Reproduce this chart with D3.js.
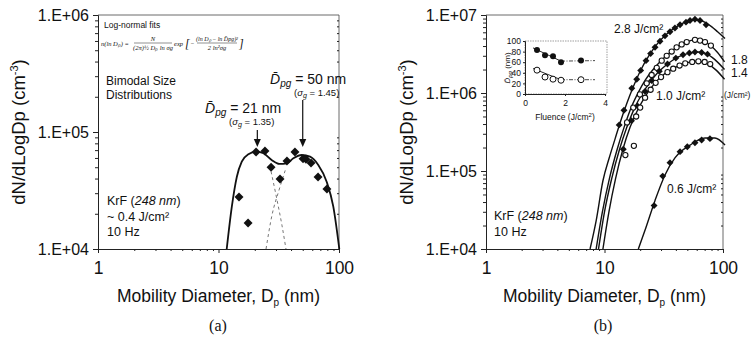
<!DOCTYPE html>
<html>
<head>
<meta charset="utf-8">
<script src="https://cdn.jsdelivr.net/npm/d3@7/dist/d3.min.js"></script>
<style>
  body { margin: 0; background: #fff; }
  text { font-family: "Liberation Sans", Arial, sans-serif; fill: #111; }
  .serif { font-family: "Liberation Serif", "Times New Roman", serif; }
</style>
</head>
<body>
<div id="chart"></div>
<script>
// ---- panel (a): bimodal distribution, ~0.4 J/cm2 ----
const pointsA = [[14.8, 2.78e4], [17.6, 1.67e4], [20.5, 6.75e4], [24.3, 6.88e4], [27.3, 5.0e4],
  [32.4, 3.97e4], [37.0, 5.65e4], [43.1, 6.75e4], [50.3, 5.9e4], [53.2, 5.85e4],
  [58.6, 5.43e4], [67.0, 4.13e4], [79.4, 3.26e4]];
const fitA = [[11.7, 1e4], [12.9, 2.3e4], [14.2, 4.15e4], [15.6, 5.57e4], [17.7, 6.45e4],
  [20.7, 6.79e4], [23.6, 6.58e4], [27.6, 5.76e4], [32, 5.33e4], [36.8, 5.4e4], [41.8, 5.96e4],
  [49, 6.36e4], [57.5, 6.15e4], [67.3, 5.22e4], [79, 3.76e4], [89.7, 2.3e4], [100.6, 1e4]];
const modeSmallA = [[27.3, 4.6e4], [30.6, 2.62e4], [33.6, 1.6e4], [36.3, 1e4]];
const modeLargeA = [[24.8, 1e4], [27.8, 1.95e4], [31.8, 3.19e4], [36.3, 4.92e4]];
const modeDpgA = [21, 50];

// ---- panel (b): fluence series ----
const fluenceLabels = ['2.8 J/cm²', '1.8', '1.4', '1.0 J/cm²', '0.6 J/cm²'];
const fit28 = [[7.55, 1e4], [8.5, 2.3e4], [9.7, 7.5e4], [11, 1.5e5], [12.3, 2.6e5], [13.5, 4.1e5],
  [15.5, 7.5e5], [17.5, 1.2e6], [20, 1.9e6], [24, 3.1e6], [28, 4.3e6], [33, 5.6e6], [40, 7e6],
  [47, 8e6], [55, 8.7e6], [62, 8.7e6], [70, 8.1e6], [80, 7.1e6], [90, 6.1e6], [104, 5.0e6]];
const marks28 = [[13.3, 3.9e5], [14.6, 6.0e5], [17, 1.15e6], [18.7, 1.5e6], [20.2, 1.95e6],
  [22.4, 2.6e6], [24.5, 3.2e6], [26.7, 3.85e6], [29.4, 4.6e6], [32.4, 5.4e6], [35.7, 6.1e6],
  [39.3, 6.8e6], [43.4, 7.5e6], [48.7, 8.1e6], [52.7, 8.5e6], [58, 8.8e6], [64, 8.5e6], [72, 7.5e6]];
const fit18 = [[8.5, 1e4], [9.6, 3e4], [11, 8e4], [12.8, 1.9e5], [14.6, 3.6e5], [17, 6.8e5],
  [19.5, 1.05e6], [22, 1.45e6], [25, 1.9e6], [30, 2.6e6], [35, 3.2e6], [41, 3.9e6], [49, 4.5e6],
  [58, 4.8e6], [67, 4.65e6], [78, 4.1e6], [90, 3.3e6], [103, 2.5e6]];
const marks18 = [[15.5, 4.2e5], [17.5, 6.5e5], [19.9, 9.6e5], [22.7, 1.33e6], [25, 1.7e6],
  [27.6, 2.1e6], [30.4, 2.6e6], [33.5, 3.0e6], [36.9, 3.4e6], [40.6, 3.85e6], [44.8, 4.2e6],
  [49.4, 4.5e6], [58, 4.8e6], [64, 4.7e6], [70.5, 4.5e6], [79, 4.05e6]];
const fit14 = [[8.9, 1e4], [10, 3e4], [11.5, 8e4], [13.4, 1.9e5], [15.4, 3.6e5], [18, 6.5e5],
  [21, 1e6], [24, 1.35e6], [28, 1.8e6], [34, 2.35e6], [42, 2.9e6], [52, 3.25e6], [62, 3.35e6],
  [72, 3.2e6], [85, 2.7e6], [103, 2.0e6]];
const marks14 = [[14.4, 1.9e5], [16.9, 4.4e5], [19, 6.8e5], [22, 1.05e6], [25, 1.45e6], [29, 1.9e6],
  [34, 2.35e6], [40, 2.8e6], [46, 3.1e6], [52, 3.25e6], [58, 3.35e6], [66, 3.3e6], [74, 3.15e6]];
const fit10 = [[9.7, 1e4], [10.9, 3e4], [12.4, 8e4], [14.3, 1.9e5], [16.4, 3.6e5], [19, 6e5],
  [22, 9e5], [26.7, 1.35e6], [32, 1.75e6], [40, 2.15e6], [50, 2.45e6], [62, 2.55e6], [75, 2.35e6],
  [88, 1.95e6], [103, 1.5e6]];
const marks10 = [[15, 1.6e5], [17.7, 2.1e5], [18.5, 5e5], [20, 6.5e5], [22, 8.7e5], [24.5, 1.1e6],
  [27, 1.35e6], [30, 1.6e6], [34, 1.85e6], [38, 2.05e6], [43, 2.25e6], [48, 2.4e6], [55, 2.5e6],
  [62, 2.55e6], [70, 2.5e6], [78, 2.35e6]];
const fit06 = [[19.3, 1e4], [22, 1.75e4], [26.7, 4.2e4], [32.4, 8.9e4], [39.3, 1.47e5],
  [52.7, 2.15e5], [70.5, 2.65e5], [85.5, 2.65e5], [104, 2.15e5]];
const marks06 = [[26.2, 3.6e4], [31, 8.6e4], [35.7, 1.28e5], [43.4, 1.77e5], [50, 2.05e5],
  [58, 2.3e5], [66, 2.5e5], [77.6, 2.6e5]];

// ---- inset: mode diameter vs fluence ----
const insetFluence = [0.6, 1.0, 1.4, 1.8, 2.8];
const dpgLarge = [83, 73, 71, 60, 63];
const dpgSmall = [45, 32, 28, 26, 27];
const insetFitLarge = [[0.4, 87], [1.8, 62], [3.5, 63]];
const insetFitSmall = [[0.4, 48], [1.8, 27], [3.5, 27]];

const xTicks = [1, 10, 100];
const width = 753, height = 340;

const svg = d3.select('#chart').append('svg')
  .attr('width', width)
  .attr('height', height);

const sci = d => '1.E+' + String(Math.round(Math.log10(d))).padStart(2, '0');

function drawPanel(left, right, top, bottom, yDomain) {
  const x = d3.scaleLog().domain([1, 100]).range([left, right]);
  const y = d3.scaleLog().domain(yDomain).range([bottom, top]);
  const g = svg.append('g');

  const yMajor = d3.range(Math.log10(yDomain[0]), Math.log10(yDomain[1]) + 1).map(p => Math.pow(10, p));
  const yMinor = y.ticks().filter(t => !yMajor.includes(t));
  const xMinor = x.ticks().filter(t => !xTicks.includes(t));

  // frame top/right
  g.append('line').attr('x1', left).attr('x2', right).attr('y1', top).attr('y2', top)
    .attr('stroke', '#444').attr('stroke-width', 0.8);
  g.append('line').attr('x1', right).attr('x2', right).attr('y1', top).attr('y2', bottom)
    .attr('stroke', '#444').attr('stroke-width', 0.8);
  g.append('g').attr('transform', `translate(${right},0)`)
    .call(d3.axisLeft(y).tickValues(yMinor).tickSize(2).tickFormat(''))
    .call(a => a.select('.domain').remove())
    .selectAll('line').attr('stroke', '#555');

  const ya = g.append('g').attr('transform', `translate(${left},0)`)
    .call(d3.axisLeft(y).tickValues(yMajor).tickSize(5).tickPadding(4).tickFormat(sci));
  ya.selectAll('text').attr('font-size', 16).attr('font-family', '"Liberation Sans", Arial, sans-serif').attr('fill', '#111');
  g.append('g').attr('transform', `translate(${left},0)`)
    .call(d3.axisLeft(y).tickValues(yMinor).tickSize(3).tickFormat(''))
    .call(a => a.select('.domain').remove());

  const xa = g.append('g').attr('transform', `translate(0,${bottom})`)
    .call(d3.axisBottom(x).tickValues(xTicks).tickSize(4).tickPadding(9).tickFormat(d3.format('d')));
  xa.selectAll('text').attr('font-size', 17.5).attr('font-family', '"Liberation Sans", Arial, sans-serif').attr('fill', '#111');
  g.append('g').attr('transform', `translate(0,${bottom})`)
    .call(d3.axisBottom(x).tickValues(xMinor).tickSize(2).tickFormat(''))
    .call(a => a.select('.domain').remove());

  g.selectAll('.domain, .tick line').attr('stroke', '#222');

  // axis titles
  const xt = g.append('text').attr('x', (left + right) / 2).attr('y', 302)
    .attr('text-anchor', 'middle').attr('font-size', 17.5);
  xt.append('tspan').text('Mobility Diameter, D');
  xt.append('tspan').attr('font-size', 10).attr('dy', 4).text('p');
  xt.append('tspan').attr('dy', -4).text(' (nm)');

  const yt = g.append('text')
    .attr('transform', `translate(${left - 73},${(top + bottom) / 2}) rotate(-90)`)
    .attr('text-anchor', 'middle').attr('font-size', 18.5);
  yt.append('tspan').text('dN/dLogDp (cm');
  yt.append('tspan').attr('font-size', 11).attr('dy', -7).text('-3');
  yt.append('tspan').attr('dy', 7).text(')');

  return { x, y, g };
}

function curve(p, data, dash, w) {
  const line = d3.line().x(d => p.x(d[0])).y(d => p.y(d[1])).curve(d3.curveMonotoneX);
  p.g.append('path').datum(data).attr('d', line)
    .attr('fill', 'none').attr('stroke', dash ? '#777' : '#111')
    .attr('stroke-width', w || 1.6)
    .attr('stroke-dasharray', dash || null);
}

function diamonds(p, data, size) {
  p.g.append('g').selectAll('path').data(data).join('path')
    .attr('d', d3.symbol(d3.symbolSquare, size))
    .attr('transform', d => `translate(${p.x(d[0])},${p.y(d[1])}) rotate(45)`)
    .attr('fill', '#111');
}

function circles(p, data, r) {
  p.g.append('g').selectAll('circle').data(data).join('circle')
    .attr('cx', d => p.x(d[0])).attr('cy', d => p.y(d[1])).attr('r', r)
    .attr('fill', '#fff').attr('stroke', '#111').attr('stroke-width', 1.1);
}

// ================= panel (a) =================
const pa = drawPanel(98, 339, 15, 249, [1e4, 1e6]);
curve(pa, modeSmallA, '3,3', 1);
curve(pa, modeLargeA, '3,3', 1);
curve(pa, fitA, null, 1.8);
diamonds(pa, pointsA, 40);

pa.g.append('text').attr('x', 104).attr('y', 28).attr('font-size', 8.5).text('Log-normal fits');

// formula
const fm = pa.g.append('g');
const ft = (x, y, s, a, fs) => fm.append('text').attr('class', 'serif').attr('x', x).attr('y', y)
  .attr('font-size', fs || 6.5).attr('font-style', 'italic').attr('text-anchor', a || 'start').text(s);
ft(101, 46, 'n(ln Dₚ) =');
ft(153, 41, 'N', 'middle');
fm.append('line').attr('x1', 134).attr('x2', 172).attr('y1', 43).attr('y2', 43).attr('stroke', '#222').attr('stroke-width', 0.5);
ft(153, 50, '(2π)½ Dₚ ln σg', 'middle');
ft(174, 46, 'exp');
ft(185, 48, '[', 'start', 12);
ft(190, 46, '−');
ft(217, 41, '(ln Dₚ − ln D̄pg)²', 'middle', 6);
fm.append('line').attr('x1', 197).attr('x2', 237).attr('y1', 43).attr('y2', 43).attr('stroke', '#222').attr('stroke-width', 0.5);
ft(217, 50, '2 ln²σg', 'middle');
ft(239, 48, ']', 'start', 12);

pa.g.append('text').attr('x', 106).attr('y', 85).attr('font-size', 12).text('Bimodal Size');
pa.g.append('text').attr('x', 106).attr('y', 99).attr('font-size', 12).text('Distributions');

function dpgLabel(g, x, y, val, sig) {
  const t = g.append('text').attr('x', x).attr('y', y).attr('font-size', 14);
  t.append('tspan').attr('font-style', 'italic').text('D̄');
  t.append('tspan').attr('font-style', 'italic').attr('font-size', 10).attr('dy', 3).text('pg');
  t.append('tspan').attr('dy', -3).text(' = ' + val + ' nm');
  const s = g.append('text').attr('x', x + 24).attr('y', y + 12).attr('font-size', 9.5);
  s.append('tspan').text('(');
  s.append('tspan').attr('font-style', 'italic').text('σ');
  s.append('tspan').attr('font-style', 'italic').attr('font-size', 7).attr('dy', 2).text('g');
  s.append('tspan').attr('dy', -2).text(' = ' + sig + ')');
}
dpgLabel(pa.g, 205, 113, 21, '1.35');
dpgLabel(pa.g, 270, 84, 50, '1.45');

const arrowTop = [130, 100];
modeDpgA.forEach((d, i) => {
  const ax = pa.x(d);
  pa.g.append('line').attr('x1', ax).attr('x2', ax).attr('y1', arrowTop[i]).attr('y2', 140)
    .attr('stroke', '#111').attr('stroke-width', 1.2);
  pa.g.append('path').attr('d', `M${ax - 3.5},${139} L${ax + 3.5},${139} L${ax},${147} Z`).attr('fill', '#111');
});

function krf(g, x, y, lines) {
  const t = g.append('text').attr('x', x).attr('y', y).attr('font-size', 12.5);
  t.append('tspan').text('KrF (');
  t.append('tspan').attr('font-style', 'italic').text('248 nm');
  t.append('tspan').text(')');
  lines.forEach((s, i) => {
    g.append('text').attr('x', x).attr('y', y + 15.5 * (i + 1)).attr('font-size', 12.5).text(s);
  });
}
krf(pa.g, 107, 205, ['~ 0.4 J/cm²', '10 Hz']);

svg.append('text').attr('class', 'serif').attr('x', 218).attr('y', 331)
  .attr('text-anchor', 'middle').attr('font-size', 16).text('(a)');

// ================= panel (b) =================
const pb = drawPanel(486, 723, 15, 249, [1e4, 1e7]);
[fit28, fit18, fit14, fit10, fit06].forEach(f => curve(pb, f, null, 1.4));
diamonds(pb, marks28, 24);
circles(pb, marks18, 2.6);
diamonds(pb, marks14, 24);
circles(pb, marks10, 2.6);
diamonds(pb, marks06, 24);

pb.g.append('text').attr('x', 614).attr('y', 33).attr('font-size', 12).text(fluenceLabels[0]);
pb.g.append('text').attr('x', 731).attr('y', 64).attr('font-size', 12).text(fluenceLabels[1]);
pb.g.append('text').attr('x', 731).attr('y', 77).attr('font-size', 12).text(fluenceLabels[2]);
pb.g.append('text').attr('x', 724).attr('y', 98).attr('font-size', 8.5).text('(J/cm²)');
pb.g.append('text').attr('x', 656).attr('y', 100).attr('font-size', 12).text(fluenceLabels[3]);
pb.g.append('text').attr('x', 667).attr('y', 193).attr('font-size', 12).text(fluenceLabels[4]);
krf(pb.g, 494, 220, ['10 Hz']);

svg.append('text').attr('class', 'serif').attr('x', 603).attr('y', 331)
  .attr('text-anchor', 'middle').attr('font-size', 16).text('(b)');

// ---- inset ----
const ix = d3.scaleLinear().domain([0, 4]).range([525, 605]);
const iy = d3.scaleLinear().domain([0, 100]).range([94, 41]);
const ig = svg.append('g');
ig.append('rect').attr('x', 525).attr('y', 41).attr('width', 82).attr('height', 53)
  .attr('fill', '#fff').attr('stroke', '#777').attr('stroke-width', 0.7).attr('stroke-dasharray', '1.5,1');
ig.append('g').attr('transform', 'translate(525,0)')
  .call(d3.axisLeft(iy).tickValues([0, 20, 40, 60, 80, 100]).tickSize(2).tickPadding(2).tickFormat(d3.format('d')));
ig.append('g').attr('transform', 'translate(0,94)')
  .call(d3.axisBottom(ix).tickValues([0, 2, 4]).tickSize(2).tickPadding(4).tickFormat(d3.format('d')));
ig.selectAll('.tick text').attr('font-size', 8.5).attr('font-family', '"Liberation Sans", Arial, sans-serif').attr('fill', '#111');
ig.selectAll('.domain, .tick line').attr('stroke', '#222');

const iline = d3.line().x(d => ix(d[0])).y(d => iy(d[1]));
[insetFitLarge, insetFitSmall].forEach(f => {
  ig.append('path').datum(f.slice(0, 2)).attr('d', iline).attr('fill', 'none').attr('stroke', '#111').attr('stroke-width', 0.9);
  ig.append('path').datum(f.slice(1)).attr('d', iline).attr('fill', 'none').attr('stroke', '#333')
    .attr('stroke-width', 0.9).attr('stroke-dasharray', '4,1.5,1,1.5');
});
ig.selectAll('.pl').data(insetFluence).join('circle').attr('class', 'pl')
  .attr('cx', d => ix(d)).attr('cy', (d, i) => iy(dpgLarge[i])).attr('r', 3).attr('fill', '#111');
ig.selectAll('.ps').data(insetFluence).join('circle').attr('class', 'ps')
  .attr('cx', d => ix(d)).attr('cy', (d, i) => iy(dpgSmall[i])).attr('r', 3)
  .attr('fill', '#fff').attr('stroke', '#111').attr('stroke-width', 1);

const il = ig.append('text').attr('transform', 'translate(510,68) rotate(-90)')
  .attr('text-anchor', 'middle').attr('font-size', 8);
il.append('tspan').attr('font-style', 'italic').text('D̄');
il.append('tspan').attr('font-style', 'italic').attr('font-size', 6).attr('dy', 2).text('pg');
il.append('tspan').attr('dy', -2).text(' (nm)');
const fl = ig.append('text').attr('x', 565).attr('y', 120).attr('text-anchor', 'middle').attr('font-size', 8.5);
fl.append('tspan').text('Fluence (J/cm');
fl.append('tspan').attr('font-size', 6).attr('dy', -3).text('2');
fl.append('tspan').attr('dy', 3).text(')');
</script>
</body>
</html>
